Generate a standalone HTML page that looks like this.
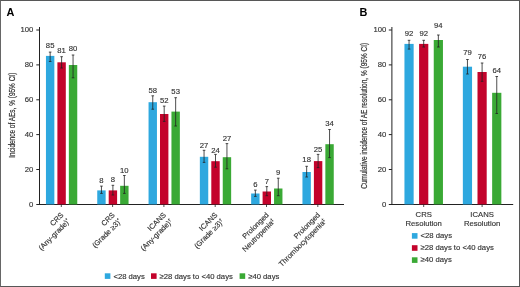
<!DOCTYPE html>
<html><head><meta charset="utf-8">
<style>
html,body{margin:0;padding:0;background:#fff;}
body{width:520px;height:287px;overflow:hidden;position:relative;}
.frame{position:absolute;left:0;top:0;width:518px;height:285px;border:1px solid #575757;border-left-color:#666;}
svg{position:absolute;left:0;top:0;will-change:transform;}
text{font-family:"Liberation Sans",sans-serif;}
.tx{opacity:0.999;}
.t{font-size:7.7px;fill:#333;stroke:#333;stroke-width:0.15px;}
.sup{font-size:4.5px;}
.rl{font-size:7.4px;}
.yl{font-size:8.2px;fill:#333;stroke:#333;stroke-width:0.2px;}
.yl2{font-size:8.6px;fill:#333;stroke:#333;stroke-width:0.2px;}
.pl{font-size:10.9px;font-weight:bold;fill:#000;}
</style></head>
<body><div class="frame"></div>
<svg width="520" height="287" viewBox="0 0 520 287">
<line x1="39.5" y1="27" x2="39.5" y2="205" stroke="#222" stroke-width="1"/>
<line x1="36.3" y1="204.5" x2="344" y2="204.5" stroke="#222" stroke-width="1"/>
<line x1="36.3" y1="30.0" x2="39.5" y2="30.0" stroke="#222" stroke-width="1"/>
<line x1="36.3" y1="64.9" x2="39.5" y2="64.9" stroke="#222" stroke-width="1"/>
<line x1="36.3" y1="99.8" x2="39.5" y2="99.8" stroke="#222" stroke-width="1"/>
<line x1="36.3" y1="134.6" x2="39.5" y2="134.6" stroke="#222" stroke-width="1"/>
<line x1="36.3" y1="169.5" x2="39.5" y2="169.5" stroke="#222" stroke-width="1"/>
<text x="33.3" y="32.1" text-anchor="end" class="t">100</text>
<text x="33.3" y="67.0" text-anchor="end" class="t">80</text>
<text x="33.3" y="101.9" text-anchor="end" class="t">60</text>
<text x="33.3" y="136.7" text-anchor="end" class="t">40</text>
<text x="33.3" y="171.6" text-anchor="end" class="t">20</text>
<text x="33.3" y="206.5" text-anchor="end" class="t">0</text>
<rect x="45.95" y="55.90" width="8.40" height="148.50" fill="#2ea8df"/>
<rect x="57.40" y="62.30" width="8.40" height="142.10" fill="#c3032b"/>
<rect x="68.85" y="65.00" width="8.40" height="139.40" fill="#3aa935"/>
<rect x="97.25" y="190.40" width="8.40" height="14.00" fill="#2ea8df"/>
<rect x="108.70" y="190.40" width="8.40" height="14.00" fill="#c3032b"/>
<rect x="120.15" y="185.80" width="8.40" height="18.60" fill="#3aa935"/>
<rect x="148.55" y="102.20" width="8.40" height="102.20" fill="#2ea8df"/>
<rect x="160.00" y="114.00" width="8.40" height="90.40" fill="#c3032b"/>
<rect x="171.45" y="111.60" width="8.40" height="92.80" fill="#3aa935"/>
<rect x="199.85" y="156.80" width="8.40" height="47.60" fill="#2ea8df"/>
<rect x="211.30" y="161.20" width="8.40" height="43.20" fill="#c3032b"/>
<rect x="222.75" y="157.20" width="8.40" height="47.20" fill="#3aa935"/>
<rect x="251.15" y="193.50" width="8.40" height="10.90" fill="#2ea8df"/>
<rect x="262.60" y="191.50" width="8.40" height="12.90" fill="#c3032b"/>
<rect x="274.05" y="188.50" width="8.40" height="15.90" fill="#3aa935"/>
<rect x="302.45" y="172.00" width="8.40" height="32.40" fill="#2ea8df"/>
<rect x="313.90" y="161.10" width="8.40" height="43.30" fill="#c3032b"/>
<rect x="325.35" y="144.20" width="8.40" height="60.20" fill="#3aa935"/>
<line x1="50.15" y1="52.10" x2="50.15" y2="61.50" stroke="#222" stroke-width="0.8"/>
<line x1="48.85" y1="52.10" x2="51.45" y2="52.10" stroke="#222" stroke-width="0.8"/>
<line x1="48.85" y1="61.50" x2="51.45" y2="61.50" stroke="#222" stroke-width="0.8"/>
<text x="50.15" y="48.30" text-anchor="middle" class="t">85</text>
<line x1="61.60" y1="56.70" x2="61.60" y2="68.00" stroke="#222" stroke-width="0.8"/>
<line x1="60.30" y1="56.70" x2="62.90" y2="56.70" stroke="#222" stroke-width="0.8"/>
<line x1="60.30" y1="68.00" x2="62.90" y2="68.00" stroke="#222" stroke-width="0.8"/>
<text x="61.60" y="53.20" text-anchor="middle" class="t">81</text>
<line x1="73.05" y1="55.00" x2="73.05" y2="77.80" stroke="#222" stroke-width="0.8"/>
<line x1="71.75" y1="55.00" x2="74.35" y2="55.00" stroke="#222" stroke-width="0.8"/>
<line x1="71.75" y1="77.80" x2="74.35" y2="77.80" stroke="#222" stroke-width="0.8"/>
<text x="73.05" y="51.10" text-anchor="middle" class="t">80</text>
<line x1="101.45" y1="186.10" x2="101.45" y2="193.40" stroke="#222" stroke-width="0.8"/>
<line x1="100.15" y1="186.10" x2="102.75" y2="186.10" stroke="#222" stroke-width="0.8"/>
<line x1="100.15" y1="193.40" x2="102.75" y2="193.40" stroke="#222" stroke-width="0.8"/>
<text x="101.45" y="183.10" text-anchor="middle" class="t">8</text>
<line x1="112.90" y1="185.30" x2="112.90" y2="195.00" stroke="#222" stroke-width="0.8"/>
<line x1="111.60" y1="185.30" x2="114.20" y2="185.30" stroke="#222" stroke-width="0.8"/>
<line x1="111.60" y1="195.00" x2="114.20" y2="195.00" stroke="#222" stroke-width="0.8"/>
<text x="112.90" y="182.10" text-anchor="middle" class="t">8</text>
<line x1="124.35" y1="175.50" x2="124.35" y2="193.40" stroke="#222" stroke-width="0.8"/>
<line x1="123.05" y1="175.50" x2="125.65" y2="175.50" stroke="#222" stroke-width="0.8"/>
<line x1="123.05" y1="193.40" x2="125.65" y2="193.40" stroke="#222" stroke-width="0.8"/>
<text x="124.35" y="173.10" text-anchor="middle" class="t">10</text>
<line x1="152.75" y1="95.80" x2="152.75" y2="109.20" stroke="#222" stroke-width="0.8"/>
<line x1="151.45" y1="95.80" x2="154.05" y2="95.80" stroke="#222" stroke-width="0.8"/>
<line x1="151.45" y1="109.20" x2="154.05" y2="109.20" stroke="#222" stroke-width="0.8"/>
<text x="152.75" y="92.70" text-anchor="middle" class="t">58</text>
<line x1="164.20" y1="106.10" x2="164.20" y2="121.40" stroke="#222" stroke-width="0.8"/>
<line x1="162.90" y1="106.10" x2="165.50" y2="106.10" stroke="#222" stroke-width="0.8"/>
<line x1="162.90" y1="121.40" x2="165.50" y2="121.40" stroke="#222" stroke-width="0.8"/>
<text x="164.20" y="103.10" text-anchor="middle" class="t">52</text>
<line x1="175.65" y1="97.70" x2="175.65" y2="126.00" stroke="#222" stroke-width="0.8"/>
<line x1="174.35" y1="97.70" x2="176.95" y2="97.70" stroke="#222" stroke-width="0.8"/>
<line x1="174.35" y1="126.00" x2="176.95" y2="126.00" stroke="#222" stroke-width="0.8"/>
<text x="175.65" y="94.20" text-anchor="middle" class="t">53</text>
<line x1="204.05" y1="150.30" x2="204.05" y2="162.40" stroke="#222" stroke-width="0.8"/>
<line x1="202.75" y1="150.30" x2="205.35" y2="150.30" stroke="#222" stroke-width="0.8"/>
<line x1="202.75" y1="162.40" x2="205.35" y2="162.40" stroke="#222" stroke-width="0.8"/>
<text x="204.05" y="147.90" text-anchor="middle" class="t">27</text>
<line x1="215.50" y1="154.40" x2="215.50" y2="167.20" stroke="#222" stroke-width="0.8"/>
<line x1="214.20" y1="154.40" x2="216.80" y2="154.40" stroke="#222" stroke-width="0.8"/>
<line x1="214.20" y1="167.20" x2="216.80" y2="167.20" stroke="#222" stroke-width="0.8"/>
<text x="215.50" y="152.70" text-anchor="middle" class="t">24</text>
<line x1="226.95" y1="143.60" x2="226.95" y2="168.80" stroke="#222" stroke-width="0.8"/>
<line x1="225.65" y1="143.60" x2="228.25" y2="143.60" stroke="#222" stroke-width="0.8"/>
<line x1="225.65" y1="168.80" x2="228.25" y2="168.80" stroke="#222" stroke-width="0.8"/>
<text x="226.95" y="140.60" text-anchor="middle" class="t">27</text>
<line x1="255.35" y1="190.10" x2="255.35" y2="196.40" stroke="#222" stroke-width="0.8"/>
<line x1="254.05" y1="190.10" x2="256.65" y2="190.10" stroke="#222" stroke-width="0.8"/>
<line x1="254.05" y1="196.40" x2="256.65" y2="196.40" stroke="#222" stroke-width="0.8"/>
<text x="255.35" y="187.30" text-anchor="middle" class="t">6</text>
<line x1="266.80" y1="186.60" x2="266.80" y2="195.70" stroke="#222" stroke-width="0.8"/>
<line x1="265.50" y1="186.60" x2="268.10" y2="186.60" stroke="#222" stroke-width="0.8"/>
<line x1="265.50" y1="195.70" x2="268.10" y2="195.70" stroke="#222" stroke-width="0.8"/>
<text x="266.80" y="183.60" text-anchor="middle" class="t">7</text>
<line x1="278.25" y1="178.20" x2="278.25" y2="195.70" stroke="#222" stroke-width="0.8"/>
<line x1="276.95" y1="178.20" x2="279.55" y2="178.20" stroke="#222" stroke-width="0.8"/>
<line x1="276.95" y1="195.70" x2="279.55" y2="195.70" stroke="#222" stroke-width="0.8"/>
<text x="278.25" y="174.80" text-anchor="middle" class="t">9</text>
<line x1="306.65" y1="166.30" x2="306.65" y2="177.00" stroke="#222" stroke-width="0.8"/>
<line x1="305.35" y1="166.30" x2="307.95" y2="166.30" stroke="#222" stroke-width="0.8"/>
<line x1="305.35" y1="177.00" x2="307.95" y2="177.00" stroke="#222" stroke-width="0.8"/>
<text x="306.65" y="162.30" text-anchor="middle" class="t">18</text>
<line x1="318.10" y1="154.40" x2="318.10" y2="167.60" stroke="#222" stroke-width="0.8"/>
<line x1="316.80" y1="154.40" x2="319.40" y2="154.40" stroke="#222" stroke-width="0.8"/>
<line x1="316.80" y1="167.60" x2="319.40" y2="167.60" stroke="#222" stroke-width="0.8"/>
<text x="318.10" y="151.90" text-anchor="middle" class="t">25</text>
<line x1="329.55" y1="129.50" x2="329.55" y2="157.60" stroke="#222" stroke-width="0.8"/>
<line x1="328.25" y1="129.50" x2="330.85" y2="129.50" stroke="#222" stroke-width="0.8"/>
<line x1="328.25" y1="157.60" x2="330.85" y2="157.60" stroke="#222" stroke-width="0.8"/>
<text x="329.55" y="125.90" text-anchor="middle" class="t">34</text>
<line x1="61.3" y1="204.5" x2="61.3" y2="207" stroke="#222" stroke-width="0.8"/>
<line x1="112.6" y1="204.5" x2="112.6" y2="207" stroke="#222" stroke-width="0.8"/>
<line x1="163.9" y1="204.5" x2="163.9" y2="207" stroke="#222" stroke-width="0.8"/>
<line x1="215.2" y1="204.5" x2="215.2" y2="207" stroke="#222" stroke-width="0.8"/>
<line x1="266.5" y1="204.5" x2="266.5" y2="207" stroke="#222" stroke-width="0.8"/>
<line x1="317.8" y1="204.5" x2="317.8" y2="207" stroke="#222" stroke-width="0.8"/>
<g transform="translate(64.00,215.50) rotate(-45)"><text x="0" y="0" text-anchor="end" class="t rl">CRS</text><text x="0" y="9.0" text-anchor="end" class="t rl">(Any-grade)<tspan class="sup" dy="-2.5">*</tspan></text></g>
<g transform="translate(115.30,215.50) rotate(-45)"><text x="0" y="0" text-anchor="end" class="t rl">CRS</text><text x="0" y="9.0" text-anchor="end" class="t rl">(Grade ≥3)<tspan class="sup" dy="-2.5">*</tspan></text></g>
<g transform="translate(166.60,215.50) rotate(-45)"><text x="0" y="0" text-anchor="end" class="t rl">ICANS</text><text x="0" y="9.0" text-anchor="end" class="t rl">(Any-grade)<tspan class="sup" dy="-2.5">†</tspan></text></g>
<g transform="translate(217.90,215.50) rotate(-45)"><text x="0" y="0" text-anchor="end" class="t rl">ICANS</text><text x="0" y="9.0" text-anchor="end" class="t rl">(Grade ≥3)<tspan class="sup" dy="-2.5">†</tspan></text></g>
<g transform="translate(269.20,215.50) rotate(-45)"><text x="0" y="0" text-anchor="end" class="t rl">Prolonged</text><text x="0" y="9.0" text-anchor="end" class="t rl">Neutropenia<tspan class="sup" dy="-2.5">‡</tspan></text></g>
<g transform="translate(320.50,215.50) rotate(-45)"><text x="0" y="0" text-anchor="end" class="t rl">Prolonged</text><text x="0" y="9.0" text-anchor="end" class="t rl">Thrombocytopenia<tspan class="sup" dy="-2.5">‡</tspan></text></g>
<text transform="translate(14.7,115.2) rotate(-90)" text-anchor="middle" class="yl" textLength="85" lengthAdjust="spacingAndGlyphs">Incidence of AEs, % (95% CI)</text>
<rect x="104.8" y="273.3" width="5.6" height="5.6" fill="#2ea8df"/>
<text x="113.39999999999999" y="278.6" class="t">&lt;28 days</text>
<rect x="151.0" y="273.3" width="5.6" height="5.6" fill="#c3032b"/>
<text x="159.6" y="278.6" class="t">≥28 days to &lt;40 days</text>
<rect x="239.6" y="273.3" width="5.6" height="5.6" fill="#3aa935"/>
<text x="248.2" y="278.6" class="t">≥40 days</text>
<line x1="391.9" y1="27" x2="391.9" y2="205" stroke="#222" stroke-width="1"/>
<line x1="388.8" y1="204.5" x2="513.2" y2="204.5" stroke="#222" stroke-width="1"/>
<line x1="388.8" y1="30.0" x2="391.9" y2="30.0" stroke="#222" stroke-width="1"/>
<line x1="388.8" y1="64.9" x2="391.9" y2="64.9" stroke="#222" stroke-width="1"/>
<line x1="388.8" y1="99.8" x2="391.9" y2="99.8" stroke="#222" stroke-width="1"/>
<line x1="388.8" y1="134.6" x2="391.9" y2="134.6" stroke="#222" stroke-width="1"/>
<line x1="388.8" y1="169.5" x2="391.9" y2="169.5" stroke="#222" stroke-width="1"/>
<text x="386.4" y="32.2" text-anchor="end" class="t">100</text>
<text x="386.4" y="67.1" text-anchor="end" class="t">80</text>
<text x="386.4" y="102.0" text-anchor="end" class="t">60</text>
<text x="386.4" y="136.8" text-anchor="end" class="t">40</text>
<text x="386.4" y="171.7" text-anchor="end" class="t">20</text>
<text x="386.4" y="206.6" text-anchor="end" class="t">0</text>
<rect x="404.45" y="43.90" width="9.20" height="160.50" fill="#2ea8df"/>
<rect x="419.10" y="43.90" width="9.20" height="160.50" fill="#c3032b"/>
<rect x="433.75" y="40.00" width="9.20" height="164.40" fill="#3aa935"/>
<rect x="462.85" y="66.70" width="9.20" height="137.70" fill="#2ea8df"/>
<rect x="477.50" y="72.00" width="9.20" height="132.40" fill="#c3032b"/>
<rect x="492.15" y="92.80" width="9.20" height="111.60" fill="#3aa935"/>
<line x1="409.05" y1="40.30" x2="409.05" y2="49.10" stroke="#222" stroke-width="0.8"/>
<line x1="407.75" y1="40.30" x2="410.35" y2="40.30" stroke="#222" stroke-width="0.8"/>
<line x1="407.75" y1="49.10" x2="410.35" y2="49.10" stroke="#222" stroke-width="0.8"/>
<text x="409.05" y="35.90" text-anchor="middle" class="t">92</text>
<line x1="423.70" y1="40.30" x2="423.70" y2="47.00" stroke="#222" stroke-width="0.8"/>
<line x1="422.40" y1="40.30" x2="425.00" y2="40.30" stroke="#222" stroke-width="0.8"/>
<line x1="422.40" y1="47.00" x2="425.00" y2="47.00" stroke="#222" stroke-width="0.8"/>
<text x="423.70" y="35.90" text-anchor="middle" class="t">92</text>
<line x1="438.35" y1="35.00" x2="438.35" y2="47.00" stroke="#222" stroke-width="0.8"/>
<line x1="437.05" y1="35.00" x2="439.65" y2="35.00" stroke="#222" stroke-width="0.8"/>
<line x1="437.05" y1="47.00" x2="439.65" y2="47.00" stroke="#222" stroke-width="0.8"/>
<text x="438.35" y="28.30" text-anchor="middle" class="t">94</text>
<line x1="467.45" y1="59.50" x2="467.45" y2="74.00" stroke="#222" stroke-width="0.8"/>
<line x1="466.15" y1="59.50" x2="468.75" y2="59.50" stroke="#222" stroke-width="0.8"/>
<line x1="466.15" y1="74.00" x2="468.75" y2="74.00" stroke="#222" stroke-width="0.8"/>
<text x="467.45" y="55.40" text-anchor="middle" class="t">79</text>
<line x1="482.10" y1="63.00" x2="482.10" y2="81.30" stroke="#222" stroke-width="0.8"/>
<line x1="480.80" y1="63.00" x2="483.40" y2="63.00" stroke="#222" stroke-width="0.8"/>
<line x1="480.80" y1="81.30" x2="483.40" y2="81.30" stroke="#222" stroke-width="0.8"/>
<text x="482.10" y="58.70" text-anchor="middle" class="t">76</text>
<line x1="496.75" y1="76.50" x2="496.75" y2="113.50" stroke="#222" stroke-width="0.8"/>
<line x1="495.45" y1="76.50" x2="498.05" y2="76.50" stroke="#222" stroke-width="0.8"/>
<line x1="495.45" y1="113.50" x2="498.05" y2="113.50" stroke="#222" stroke-width="0.8"/>
<text x="496.75" y="72.60" text-anchor="middle" class="t">64</text>
<line x1="423.7" y1="204.5" x2="423.7" y2="207" stroke="#222" stroke-width="0.8"/>
<line x1="482.1" y1="204.5" x2="482.1" y2="207" stroke="#222" stroke-width="0.8"/>
<text x="423.7" y="216.6" text-anchor="middle" class="t">CRS</text>
<text x="423.7" y="226.3" text-anchor="middle" class="t">Resolution</text>
<text x="482.1" y="216.6" text-anchor="middle" class="t">ICANS</text>
<text x="482.1" y="226.3" text-anchor="middle" class="t">Resolution</text>
<text transform="translate(367.0,115.8) rotate(-90)" text-anchor="middle" class="yl2" textLength="146" lengthAdjust="spacingAndGlyphs">Cumulative incidence of AE resolution, % (95% CI)</text>
<rect x="411.9" y="233.1" width="5.6" height="5.6" fill="#2ea8df"/>
<text x="420.6" y="238.1" class="t">&lt;28 days</text>
<rect x="411.9" y="245.2" width="5.6" height="5.6" fill="#c3032b"/>
<text x="420.6" y="250.2" class="t">≥28 days to &lt;40 days</text>
<rect x="411.9" y="257.3" width="5.6" height="5.6" fill="#3aa935"/>
<text x="420.6" y="262.3" class="t">≥40 days</text>
<text x="6.6" y="15.6" class="pl">A</text>
<text x="359.6" y="15.9" class="pl">B</text>
</svg>
</body></html>
